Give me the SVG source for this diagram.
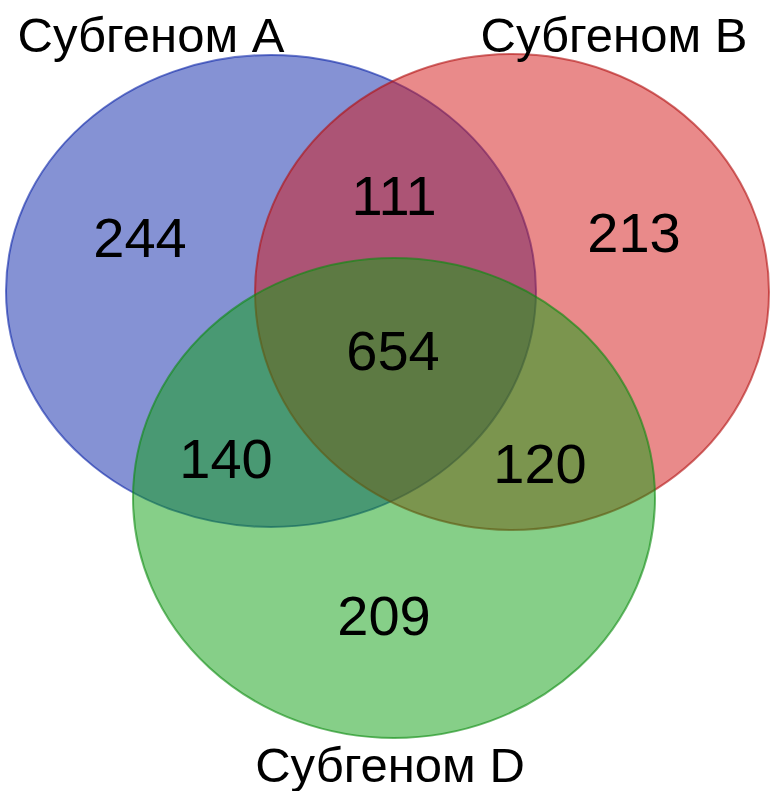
<svg xmlns="http://www.w3.org/2000/svg" width="771" height="791" viewBox="0 0 771 791">
<style>
.set{fill-opacity:0.5;stroke-width:2;stroke-opacity:0.6}
.lbl{font-family:"Liberation Sans",Arial,sans-serif;font-size:49px;fill:#000;text-anchor:middle}
.num{font-family:"Liberation Sans",Arial,sans-serif;font-size:56px;fill:#000;text-anchor:middle}
</style>
<rect width="771" height="791" fill="#ffffff"/>
<g id="setA"><ellipse class="set" cx="271" cy="291" rx="265" ry="236" fill="#0b25a9" stroke="#0b25a9"/></g>
<g id="setB"><ellipse class="set" cx="512" cy="292" rx="257" ry="238" fill="#d31515" stroke="#b01010"/></g>
<g id="setD"><ellipse class="set" cx="394" cy="498" rx="261" ry="240" fill="#0d9f11" stroke="#0d8a11"/></g>
<g id="connectors"></g>
<g id="labels">
<text class="lbl" x="151" y="52">Субгеном A</text>
<text class="lbl" x="614" y="52">Субгеном B</text>
<text class="lbl" x="390" y="782">Субгеном D</text>
</g>
<g id="counts">
<text class="num" x="140" y="257">244</text>
<text class="num" x="394" y="215">111</text>
<text class="num" x="634" y="252">213</text>
<text class="num" x="393" y="370">654</text>
<text class="num" x="226" y="478">140</text>
<text class="num" x="540" y="483">120</text>
<text class="num" x="384" y="635">209</text>
</g>
</svg>
